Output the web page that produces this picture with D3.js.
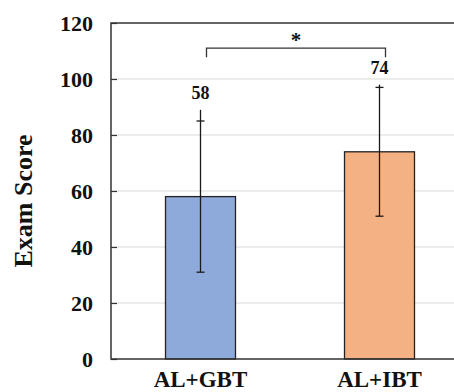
<!DOCTYPE html>
<html>
<head>
<meta charset="utf-8">
<script src="https://cdn.jsdelivr.net/npm/d3@7"></script>
<style>
  html, body { margin: 0; padding: 0; background: #fff; }
  svg { display: block; font-family: "Liberation Serif", "Times New Roman", serif; font-weight: bold; }
</style>
</head>
<body>
<div id="chart"></div>
<script>
// Data
const groups = ["AL+GBT", "AL+IBT"];
const means = [58, 74];
const errLow = [31, 51];
const errHigh = [85, 97];
const stemTop = [89, 98]; // whisker line as drawn in the source
const barColors = ["#8eaadb", "#f4b183"];
const yTicks = [0, 20, 40, 60, 80, 100, 120];
const sigPair = ["AL+GBT", "AL+IBT"];
const sigLabel = "*";

const width = 454;
const height = 392;
const margin = { top: 23, left: 111, bottom: 33 };
const plotRight = 469; // frame runs past the picture edge

const svg = d3.select("#chart")
  .append("svg")
  .attr("width", width)
  .attr("height", height);

const y = d3.scaleLinear()
  .domain([0, 120])
  .range([height - margin.bottom, margin.top]);

const x = d3.scaleBand()
  .domain(groups)
  .range([margin.left, plotRight])
  .paddingInner(0.609)
  .paddingOuter(0.3045);

const cx = (d) => x(d) + x.bandwidth() / 2;

// Gridlines
svg.append("g")
  .selectAll("line")
  .data(yTicks.filter((d) => d > 0 && d < 120))
  .enter()
  .append("line")
  .attr("x1", margin.left)
  .attr("x2", plotRight)
  .attr("y1", (d) => y(d))
  .attr("y2", (d) => y(d))
  .style("stroke", "#d9d9d9")
  .style("stroke-width", 1);

// Y axis (inside ticks)
const yAxis = svg.append("g")
  .attr("transform", `translate(${margin.left},0)`)
  .call(d3.axisRight(y).tickValues(yTicks).tickSize(6).tickFormat(""));
yAxis.select(".domain").remove();
yAxis.selectAll(".tick line").style("stroke", "#333").style("stroke-width", 1.2);

// Tick labels
svg.append("g")
  .selectAll("text")
  .data(yTicks)
  .enter()
  .append("text")
  .attr("x", 93)
  .attr("y", (d) => y(d))
  .attr("dy", "0.35em")
  .attr("text-anchor", "end")
  .style("font-size", "22px")
  .style("fill", "#111")
  .text((d) => d);

// Bars
svg.append("g")
  .selectAll("rect")
  .data(groups)
  .enter()
  .append("rect")
  .attr("x", (d) => x(d))
  .attr("y", (d, i) => y(means[i]))
  .attr("width", x.bandwidth())
  .attr("height", (d, i) => y(0) - y(means[i]))
  .style("fill", (d, i) => barColors[i])
  .style("stroke", "#222")
  .style("stroke-width", 1.3);

// Frame: top, left, bottom
svg.append("path")
  .attr("d", `M${plotRight},${y(120)}H${margin.left}V${y(0)}H${plotRight}`)
  .style("fill", "none")
  .style("stroke", "#333")
  .style("stroke-width", 1.5);

// Error bars
const err = svg.append("g")
  .selectAll("g")
  .data(groups)
  .enter()
  .append("g")
  .style("stroke", "#1a1a1a")
  .style("stroke-width", 1.3);

err.append("line")
  .attr("x1", cx)
  .attr("x2", cx)
  .attr("y1", (d, i) => y(errLow[i]))
  .attr("y2", (d, i) => y(stemTop[i]));

[errLow, errHigh].forEach((vals) => {
  err.append("line")
    .attr("x1", (d) => cx(d) - 4)
    .attr("x2", (d) => cx(d) + 4)
    .attr("y1", (d, i) => y(vals[i]))
    .attr("y2", (d, i) => y(vals[i]));
});

// Value labels
svg.append("g")
  .selectAll("text")
  .data(groups)
  .enter()
  .append("text")
  .attr("x", cx)
  .attr("y", (d, i) => y(stemTop[i]) - 11)
  .attr("text-anchor", "middle")
  .style("font-size", "18px")
  .style("fill", "#111")
  .text((d, i) => means[i]);

// Significance bracket
const bx1 = cx(sigPair[0]) + 6;
const bx2 = cx(sigPair[1]) + 6;
const by = y(111);
svg.append("path")
  .attr("d", `M${bx1},${by + 9}V${by}H${bx2}V${by + 9}`)
  .style("fill", "none")
  .style("stroke", "#333")
  .style("stroke-width", 1.3);

svg.append("text")
  .attr("x", (bx1 + bx2) / 2)
  .attr("y", by - 1)
  .attr("text-anchor", "middle")
  .style("font-size", "21px")
  .style("fill", "#111")
  .text(sigLabel);

// X labels
svg.append("g")
  .selectAll("text")
  .data(groups)
  .enter()
  .append("text")
  .attr("x", cx)
  .attr("y", 387)
  .attr("text-anchor", "middle")
  .style("font-size", "23px")
  .style("fill", "#111")
  .text((d) => d);

// Y title
svg.append("text")
  .attr("transform", `translate(32, ${(y(0) + y(120)) / 2 + 10}) rotate(-90)`)
  .attr("text-anchor", "middle")
  .style("font-size", "26px")
  .style("fill", "#111")
  .text("Exam Score");
</script>
</body>
</html>
